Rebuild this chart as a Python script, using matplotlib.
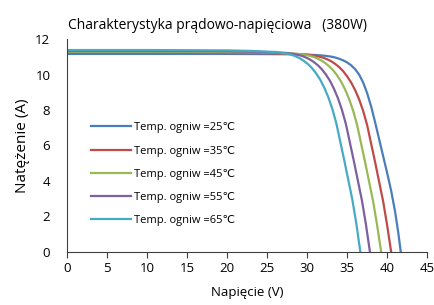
import numpy as np
import matplotlib
matplotlib.use('Agg')
import matplotlib.pyplot as plt

plt.rcParams['font.family'] = ['Open Sans', 'DejaVu Sans']

# I-V curves (voltage V, current A)
v25 = [0, 10, 20, 25, 28, 30, 31, 32, 33, 33.5, 34, 34.5, 35, 35.5, 36, 36.5, 37, 37.5,
       38, 38.5, 39, 39.5, 40, 40.5, 41, 41.4, 41.7]
i25 = [11.16, 11.16, 11.16, 11.15, 11.14, 11.12, 11.1, 11.07, 11.01, 10.96, 10.89, 10.8, 10.68,
       10.52, 10.3, 10.0, 9.55, 8.95, 8.2, 7.3, 6.35, 5.4, 4.45, 3.45, 2.25, 1.05, 0]

v35 = [0, 10, 20, 25, 27, 29, 30, 31, 31.5, 32, 32.5, 33, 33.5, 34, 34.5, 35, 35.5, 36,
       36.5, 37, 37.5, 38, 38.5, 39, 39.5, 40, 40.5]
i35 = [11.22, 11.22, 11.21, 11.2, 11.18, 11.15, 11.12, 11.06, 11.01, 10.95, 10.86, 10.75, 10.6,
       10.42, 10.19, 9.9, 9.55, 9.12, 8.6, 7.95, 7.15, 6.1, 5.05, 3.95, 2.85, 1.5, 0]

v45 = [0, 10, 20, 24, 26, 28.75, 29.75, 30.25, 30.75, 31.25, 31.75, 32.25, 32.75, 33.25,
       33.75, 34.25, 34.75, 35.25, 35.75, 36.25, 36.75, 37.25, 37.75, 38.25, 38.75, 39.25]
i45 = [11.27, 11.27, 11.26, 11.25, 11.22, 11.17, 11.11, 11.06, 11.0, 10.91, 10.8, 10.65, 10.47,
       10.24, 9.95, 9.6, 9.15, 8.62, 7.96, 7.15, 6.1, 5.05, 3.95, 2.85, 1.5, 0]

v55 = [0, 10, 20, 24, 26, 27.35, 28.35, 28.85, 29.35, 29.85, 30.35, 30.85, 31.35, 31.85,
       32.35, 32.85, 33.35, 33.85, 34.35, 34.85, 35.35, 35.85, 36.35, 36.85, 37.35, 37.85]
i55 = [11.32, 11.32, 11.31, 11.28, 11.24, 11.22, 11.16, 11.11, 11.05, 10.96, 10.85, 10.7, 10.52,
       10.29, 10.0, 9.65, 9.2, 8.67, 8.01, 7.2, 6.15, 5.1, 4.0, 2.9, 1.55, 0]

v65 = [0, 10, 20, 23, 25, 26.15, 27.15, 27.65, 28.15, 28.65, 29.15, 29.65, 30.15, 30.65,
       31.15, 31.65, 32.15, 32.65, 33.15, 33.65, 34.15, 34.65, 35.15, 35.65, 36.15, 36.65]
i65 = [11.38, 11.38, 11.36, 11.33, 11.29, 11.27, 11.21, 11.16, 11.1, 11.01, 10.9, 10.75, 10.57,
       10.34, 10.05, 9.7, 9.25, 8.72, 8.06, 7.25, 6.2, 5.15, 4.05, 2.95, 1.6, 0]

labels = ['Temp. ogniw =25\u2103', 'Temp. ogniw =35\u2103', 'Temp. ogniw =45\u2103',
          'Temp. ogniw =55\u2103', 'Temp. ogniw =65\u2103']
colors = ['#4a7ebb', '#be4b48', '#98b954', '#7d60a0', '#46aac5']

fig = plt.figure(figsize=(4.35, 3.05), dpi=100)
ax = fig.add_axes([0.154, 0.174, 0.828, 0.698])

series = [(v25, i25), (v35, i35), (v45, i45), (v55, i55), (v65, i65)]
for (v, i), lab, c in zip(series, labels, colors):
    ax.plot(v, i, color=c, lw=1.6, label=lab, solid_joinstyle='round')

ax.set_xlim(0, 45)
ax.set_ylim(0, 12)
ax.set_xticks(range(0, 46, 5))
ax.set_yticks(range(0, 13, 2))
ax.tick_params(axis='x', direction='out', length=4, labelsize=9.5, color='#404040')
ax.tick_params(axis='y', length=0, labelsize=9.5, pad=12)
for s in ['top', 'right']:
    ax.spines[s].set_visible(False)
for s in ['left', 'bottom']:
    ax.spines[s].set_color('#404040')

ax.set_xlabel('Napięcie (V)', fontsize=9.5, labelpad=8)
ax.set_ylabel('Natężenie (A)', fontsize=11, labelpad=4)
fig.text(0.157, 0.918, 'Charakterystyka prądowo-napięciowa   (380W)', fontsize=10, va='center')

ax.legend(loc='upper left', bbox_to_anchor=(0.05, 0.635), frameon=False, fontsize=8,
          handlelength=3.6, handletextpad=0.3, labelspacing=1.1, borderpad=0)

fig.savefig('out.png', dpi=100)
